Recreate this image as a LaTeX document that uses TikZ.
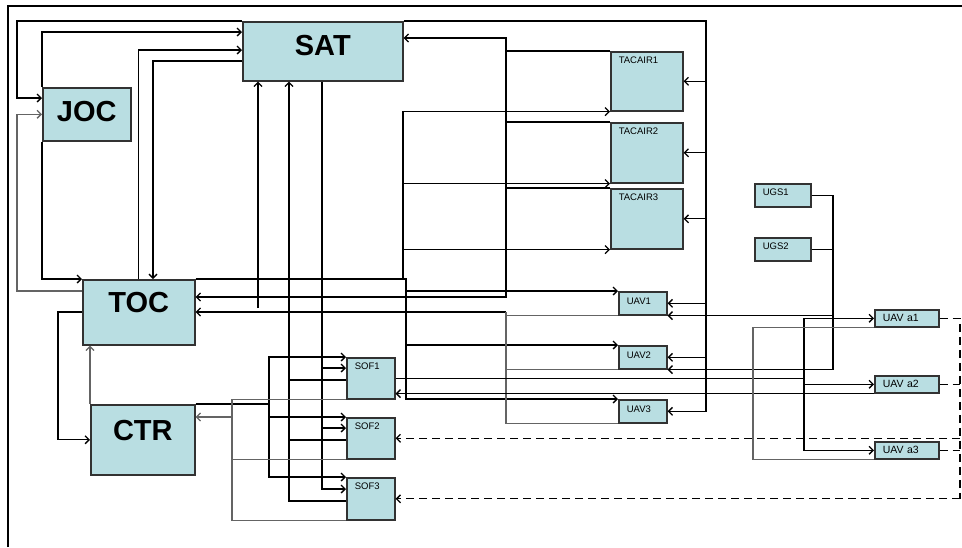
\documentclass[tikz,border=0pt]{standalone}
\usepackage{fontspec}
\setmainfont{Liberation Sans}
\usetikzlibrary{arrows.meta}
\definecolor{relleno}{RGB}{185,222,226}
\definecolor{borde}{RGB}{50,50,50}
\definecolor{grisl}{RGB}{100,100,100}
\begin{document}
\begin{tikzpicture}[
    x=1pt, y=-1pt, line width=1.3pt, >={Straight Barb[length=4pt,width=8pt]},
    caja/.style={draw=borde, fill=relleno, line width=1.6pt, anchor=north west, inner sep=0pt},
    grande/.style={caja, font=\fontsize{29}{30}\selectfont\bfseries},
    chica/.style={caja, inner xsep=8pt, align=left, font=\fontsize{9.5}{10}\selectfont},
    gris/.style={color=grisl},
    discontinua/.style={dash pattern=on 8pt off 5pt}
  ]
  \useasboundingbox (0,0) rectangle (962,547);
  % marco
  \draw[line width=1.5pt] (8,547) -- (8,6) -- (962,6);

  % nodos grandes
  \node[grande, minimum width=160pt, text height=34pt, text depth=25pt] (SAT) at (242,21) {SAT};
  \node[grande, minimum width=88pt, text height=34pt, text depth=19pt] (JOC) at (42,87) {JOC};
  \node[grande, minimum width=112pt, text height=33pt, text depth=32pt] (TOC) at (82,279) {TOC};
  \node[grande, minimum width=104pt, text height=36pt, text depth=34pt] (CTR) at (90,404) {CTR};

  % nodos chicos
  \node[chica, text width=56pt, text height=12pt, text depth=47pt] (TACAIR1) at (610,51) {TACAIR1};
  \node[chica, text width=56pt, text height=12pt, text depth=48pt] (TACAIR2) at (610,122) {TACAIR2};
  \node[chica, text width=56pt, text height=12pt, text depth=48pt] (TACAIR3) at (610,188) {TACAIR3};
  \node[chica, text width=32pt, text height=13pt, text depth=10pt] (UAV1) at (618,291) {UAV1};
  \node[chica, text width=32pt, text height=13pt, text depth=10pt] (UAV2) at (618,345) {UAV2};
  \node[chica, text width=32pt, text height=13pt, text depth=10pt] (UAV3) at (618,399) {UAV3};
  \node[chica, text width=32pt, text height=12pt, text depth=29pt] (SOF1) at (346,357) {SOF1};
  \node[chica, text width=32pt, text height=12pt, text depth=29pt] (SOF2) at (346,417) {SOF2};
  \node[chica, text width=32pt, text height=12pt, text depth=30pt] (SOF3) at (346,477) {SOF3};
  \node[chica, text width=40pt, text height=12pt, text depth=11pt] (UGS1) at (754,183) {UGS1};
  \node[chica, text width=40pt, text height=12pt, text depth=11pt] (UGS2) at (754,237) {UGS2};
  \node[chica, font=\fontsize{10.5}{11}\selectfont, text width=48pt, text height=12pt, text depth=5pt] (UAVa1) at (874,309) {UAV a1};
  \node[chica, font=\fontsize{10.5}{11}\selectfont, text width=48pt, text height=12pt, text depth=5pt] (UAVa2) at (874,375) {UAV a2};
  \node[chica, font=\fontsize{10.5}{11}\selectfont, text width=48pt, text height=12pt, text depth=5pt] (UAVa3) at (874,441) {UAV a3};

  % barras verticales
  \coordinate (bL) at (17,0);
  \coordinate (bB) at (706,0);
  \coordinate (bT) at (403,0);
  \coordinate (bU) at (406,0);
  \coordinate (bTa) at (506,0);
  \coordinate (bP) at (289,0);
  \coordinate (bQ) at (322,0);
  \coordinate (bC) at (269,0);
  \coordinate (bK) at (232,0);
  \coordinate (bG) at (833,0);
  \coordinate (bS) at (804,0);
  \coordinate (bR) at (753,0);
  \coordinate (bD) at (960,0);
  \coordinate (tocSat) at (258,308);

  % SAT -> JOC, TACAIR, UAV
  \draw[->] (SAT.north west) -| (bL |- 0,98) -- (JOC.west |- 0,98);
  \draw[->] (SAT.north east) -| (bB |- UAV3.east) -- (UAV3.east);
  \foreach \n in {TACAIR1,TACAIR2,TACAIR3,UAV1,UAV2}
    \draw[->] (bB |- \n.east) -- (\n.east);

  % JOC
  \draw[->] (JOC.north west) |- (SAT.west |- 0,32);
  \draw[->] (JOC.south west) |- (TOC.north west);
  \draw[gris,->] (TOC.west |- 0,291) -| (bL |- JOC.west) -- (JOC.west);

  % TOC <-> SAT
  \draw[->] (TOC.north) |- (SAT.west |- 0,50);
  \draw[->] (SAT.west |- 0,61) -| (TOC.north -| 153,0);
  \draw[->] (tocSat) -- (SAT.south -| tocSat);

  % TOC <-> CTR
  \draw[->] (TOC.west |- 0,312) -- ++(-24,0) |- (CTR.west);
  \draw[gris,->] (CTR.north west) -- (TOC.south -| CTR.north west);

  % SOF -> SAT
  \draw[->] (SOF3.west |- 0,501) -| (SAT.south -| bP);
  \draw (SOF1.west |- 0,380) -- (bP |- 0,380);
  \draw (SOF2.west |- 0,440) -- (bP |- 0,440);

  % SAT -> SOF
  \draw[->] (SAT.south -| bQ) |- (SOF3.west |- 0,489);
  \draw[->] (bQ |- 0,368) -- (SOF1.west |- 0,368);
  \draw[->] (bQ |- 0,428) -- (SOF2.west |- 0,428);

  % CTR -> SOF
  \draw[->] (CTR.north east) -| (bC |- SOF1.north west) -- (SOF1.north west);
  \draw[->] (bC |- CTR.north east) |- (SOF3.north west);
  \draw[->] (bC |- SOF2.north west) -- (SOF2.north west);

  % SOF -> CTR
  \draw[gris] (SOF1.south west) -| (bK |- SOF3.south west) -- (SOF3.south west);
  \draw[gris] (SOF2.south west) -- (bK |- SOF2.south west);
  \draw[gris,->] (bK |- 0,417) -- (CTR.east |- 0,417);

  % TOC -> TACAIR, UAV
  \draw[->] (TOC.north east) -| (bU |- UAV3.north west) -- (UAV3.north west);
  \draw[->] (bT |- TOC.north east) |- (TACAIR1.south west);
  \foreach \n in {TACAIR2,TACAIR3}
    \draw[->] (bT |- \n.south west) -- (\n.south west);
  \foreach \n in {UAV1,UAV2}
    \draw[->] (bU |- \n.north west) -- (\n.north west);

  % TACAIR -> SAT, TOC
  \draw[<->] (SAT.east |- 0,38) -| (bTa |- 0,297) -- (TOC.east |- 0,297);
  \foreach \n in {TACAIR1,TACAIR2,TACAIR3}
    \draw (\n.north west) -- (bTa |- \n.north west);

  % UAV -> TOC
  \draw[->] (bTa |- 0,312) -- (TOC.east |- 0,312);
  \draw[gris] (bTa |- 0,312) |- (UAV3.south west);
  \foreach \n in {UAV1,UAV2}
    \draw[gris] (\n.south west) -- (bTa |- \n.south west);

  % UGS -> UAV
  \draw[->] (UGS1.east) -| (bG |- UAV2.south east) -- (UAV2.south east);
  \draw (UGS2.east) -- (bG |- UGS2.east);
  \draw[->] (bG |- UAV1.south east) -- (UAV1.south east);

  % SOF1 -> UAV a
  \draw (SOF1.east) -- (bS |- SOF1.east);
  \draw[->] (bS |- UAVa1.west) |- (UAVa3.west);
  \foreach \n in {UAVa1,UAVa2}
    \draw[->] (bS |- \n.west) -- (\n.west);

  % UAV a -> SOF1
  \draw[->] (UAVa2.south west) -- (SOF1.east |- UAVa2.south west);
  \draw[gris] (UAVa1.south west) -| (bR |- UAVa3.south west) -- (UAVa3.south west);

  % UAV a -> SOF2, SOF3
  \draw[discontinua] (UAVa1.east) -| (bD |- SOF3.east);
  \draw[discontinua,->] (bD |- SOF3.east) -- (SOF3.east);
  \draw[discontinua,->] (bD |- SOF2.east) -- (SOF2.east);
  \foreach \n in {UAVa2,UAVa3}
    \draw[discontinua] (\n.east) -- (bD |- \n.east);
\end{tikzpicture}
\end{document}
